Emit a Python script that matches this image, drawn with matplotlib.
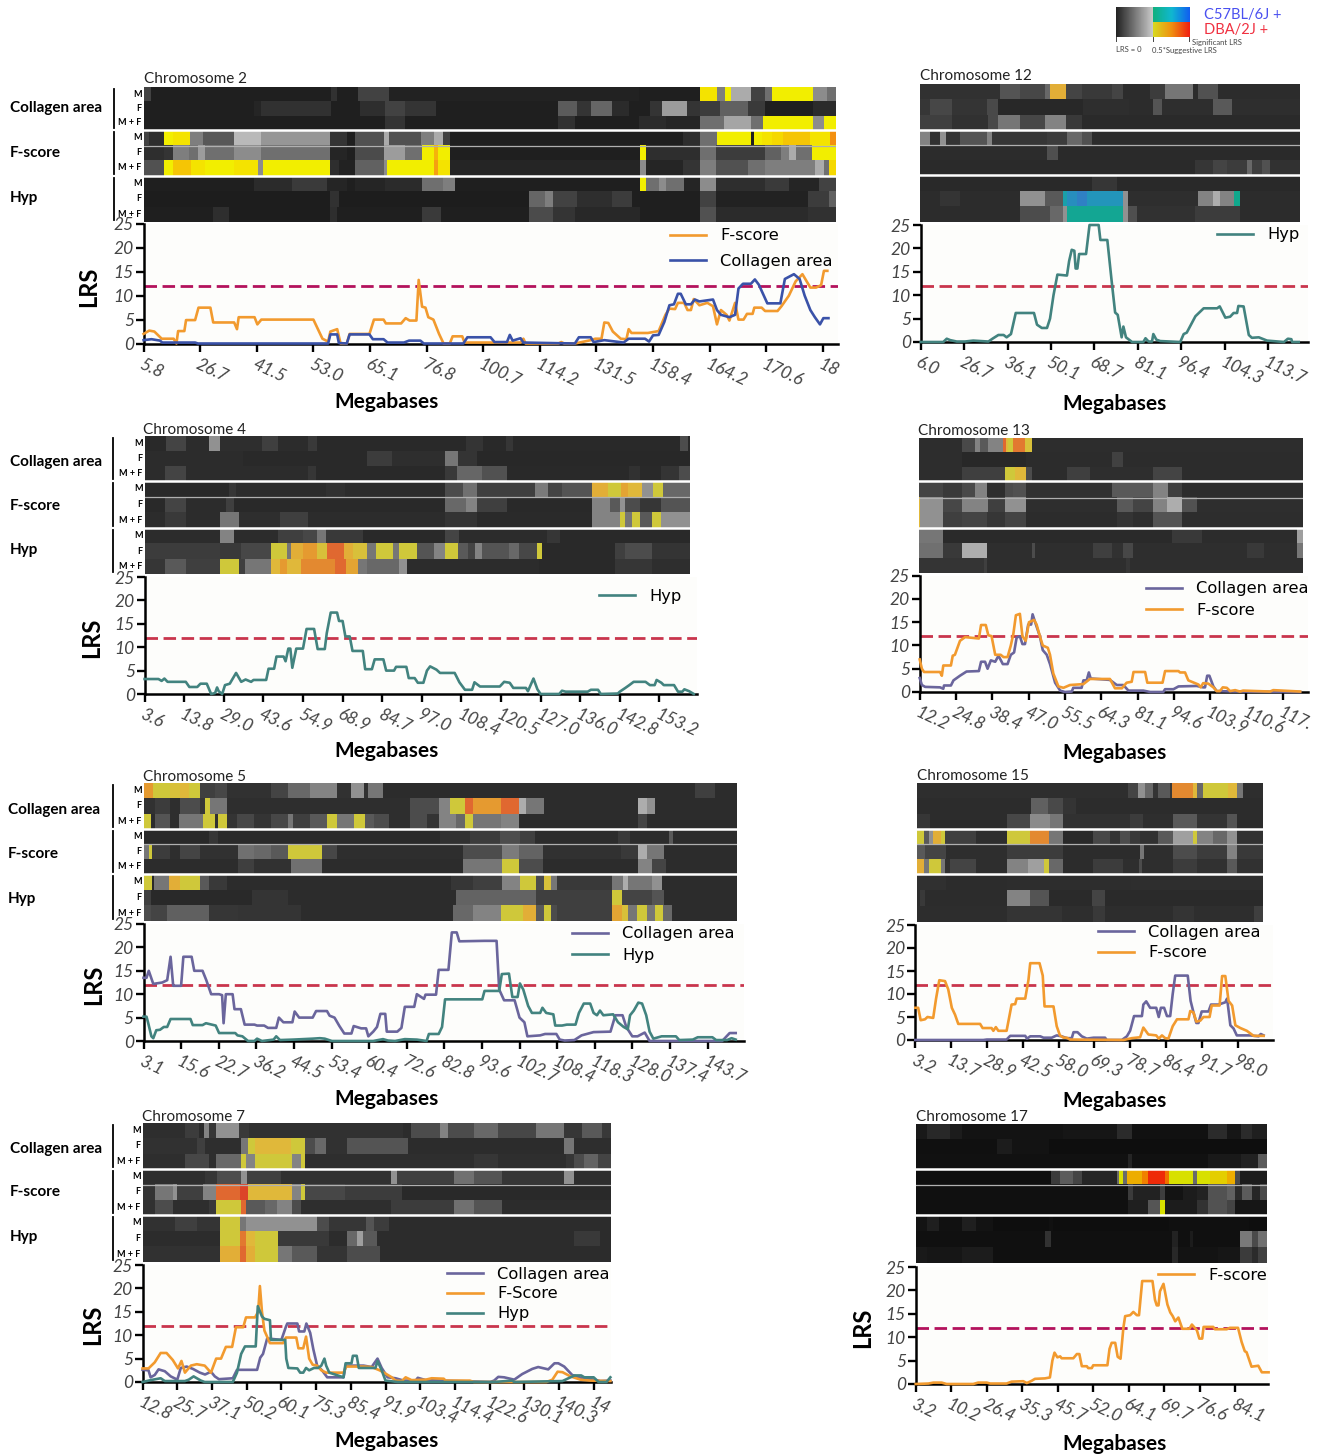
#!/usr/bin/env python3
"""
LRS heat strips and line plots for chromosomes 2, 4, 5, 7, 12, 13, 15, 17
"""

import numpy as np
import matplotlib
matplotlib.use('Agg')
import matplotlib.pyplot as plt
from matplotlib.colors import LinearSegmentedColormap, Normalize

W, H = 1317, 1456
FONT = 'Lato'

# Heat rows: (end of block as % of the strip, LRS) - negative is the C57BL/6J + side
# Row order is Collagen M, F, M+F, F-score M, F, M+F, Hyp M, F, M+F
chr2_heat = [
    [(1,1.5),(27,.3),(28,.9),(31,.3),(35.5,1.5),(71.6,.4),(80.3,.3),(82.8,9),(84,3.5),(84.8,8),(87.7,5),(89.7,1.5),(90.8,3),(96.7,8),(98.7,4),(100,3)],
    [(16,.3),(17,.5),(27,.9),(31.3,.3),(34.8,.8),(37.8,1.5),(42.3,1),(59.9,.3),(62.6,2.3),(64.6,1),(67.7,2.7),(70.1,.7),(73.2,.3),(74.8,1),(78.5,4.5),(80.3,1),(83.2,1.3),(87.3,2.5),(89.7,1.2),(96.7,.3),(100,.7)],
    [(34.8,.3),(37.8,1),(59.9,.3),(62.3,.9),(71.6,.3),(75.5,.7),(80.3,.5),(83.8,3),(87.7,4.8),(89.5,3),(96.7,8),(98.3,4),(100,8)],
    [(.8,1.5),(3,.8),(4.3,8),(6.7,9),(8.6,3.5),(13,2.2),(16.9,5.5),(26.9,4.3),(29.4,1),(30.6,.3),(34.7,2),(35.5,5),(40,2),(42,3.5),(43.2,5),(44.3,1.5),(77.9,.3),(80.3,.8),(82.8,3),(87.7,8),(88.2,.3),(89.3,8),(90.8,9),(92.4,10),(96.3,11),(99.2,9),(100,14)],
    [(3,.8),(4.3,1),(6.6,3.5),(7.8,3),(8.8,4.5),(13,3),(16.9,4),(26.9,3),(29.4,.5),(30.6,.3),(34.7,1.8),(37.8,4.5),(40.2,3),(41.9,8),(42.5,12),(44.3,8),(71.7,.3),(72.6,8),(80.3,.8),(82.6,3),(89.7,1.3),(92,2.5),(93.2,3.5),(94.2,5),(96.5,3),(100,8)],
    [(3,2),(4.3,8),(6.8,11),(8.8,9),(13,8),(16.5,9),(17.3,4),(26.9,8),(28.2,.8),(30.6,.4),(34.7,2.5),(35.2,4),(41.9,8),(42.5,13),(44.3,9),(71.7,.5),(72.6,4),(77.9,.5),(80.3,1),(82.6,3.5),(87.3,2),(89.7,3),(97,3.5),(98.2,5),(99,3),(100,10)],
    [(16,.3),(21.4,.7),(26.5,1.2),(29.4,.5),(30.6,.3),(34.8,.5),(40.2,.7),(43.2,3),(45,3.5),(71.7,.3),(72.6,8),(74.4,3),(75.4,4),(78.1,3),(80.3,.5),(82.6,4),(89.7,.8),(93.2,1.2),(97.5,.5),(100,1.5)],
    [(26.9,.2),(28.2,.9),(55.6,.2),(58,2.7),(59.1,3.5),(62.6,1.5),(67.7,.8),(70.5,1.3),(80.3,.3),(82.6,1.5),(95.9,.4),(99,1.3),(100,2.5)],
    [(10,.3),(12.4,.8),(26.9,.2),(28,.8),(40.2,.3),(43,1.2),(55.6,.3),(59.1,1.8),(62.3,1),(71.7,.6),(80.3,.3),(82.6,2),(95.9,.7),(100,.9)],
]
chr4_heat = [
    [(4,.2),(7.6,1.2),(11.8,.3),(13.9,4),(21.5,.4),(24.4,1),(30,.3),(31.6,.8),(59,.2),(62,.6),(66.3,.2),(67.5,.7),(98.2,.2),(99.6,1.5),(100,.2)],
    [(18,.3),(40.8,.2),(45.3,.9),(55,.4),(57.5,3),(61,.6),(100,.15)],
    [(3.8,.3),(7.6,1.2),(30,.3),(31.5,.7),(55,.2),(57.2,.8),(61.9,2.4),(66.5,1.7),(88.8,.2),(90.9,.5),(94.7,.2),(98,.6),(100,1.5)],
    [(15.5,.2),(16.8,.7),(33.3,.3),(36.7,.5),(55,.3),(58.4,1.5),(61,2.8),(71.5,1),(74,3.2),(76.6,1.2),(82,1.8),(84.9,11),(87.4,8),(88.7,12),(91.2,10),(93.3,4),(95,8),(100,2.5)],
    [(3.8,.2),(7.6,1.2),(15,.3),(16.4,1),(55,.2),(58.9,2.5),(61,3.5),(66.5,1),(82,.2),(85.4,3.5),(87.1,2),(88,4),(90.9,1.5),(94.7,.7),(100,1.8)],
    [(3.8,.3),(7.6,.8),(13.9,.3),(17.3,3),(24.8,.4),(29.9,1),(55,.3),(61,.6),(82,.25),(87.1,3.5),(88,8),(89.3,3),(90.9,8),(93,2),(94.7,8),(100,4)],
    [(13.9,.3),(16.4,3.5),(24.4,.3),(29,1),(31.6,1.3),(33.2,3),(40,.8),(55,.2),(57.6,1.2),(73.7,.3),(76.2,.7),(100,.2)],
    [(13.9,.9),(17.7,.8),(23.1,1.3),(26.1,8),(26.9,3),(29,11),(31.6,13),(33.5,9),(36.6,16),(38.3,11),(40.8,9),(42.5,3),(45.5,7.5),(46.7,3),(49.9,8),(53,1.8),(55.1,3.5),(57.5,8),(59.3,2),(60.6,1.2),(61.9,3.5),(66.9,1.8),(68.6,2.5),(72,1.3),(72.8,8),(86.3,.2),(88,1),(93,1.5),(100,.6)],
    [(3.8,.7),(7.6,2),(13.9,1),(17.3,8),(18.5,1),(23.1,3),(24.8,10),(26.1,13),(28.6,10),(34.9,14),(37,16),(39.1,12),(40.8,3),(46.7,2.5),(48.2,4),(72.4,.3),(86.3,.2),(93,.7),(100,.4)],
]
chr5_heat = [
    [(1.6,13),(4.4,8),(6.2,9),(7.6,10),(9.6,8),(12.1,1),(14.1,1.3),(21.5,.5),(24.4,1.2),(28.1,2.5),(32.6,3.5),(34.9,.5),(37.2,4),(37.9,.5),(40.4,3),(93,.3),(96.3,1),(100,.3)],
    [(2,.5),(4.4,.9),(6.2,.4),(9.6,1.5),(10.4,.7),(11.2,8),(14.1,3),(44.9,.4),(49.8,1.5),(51.6,3.5),(54.1,8),(55.5,16),(60.2,13),(63.2,16),(64.5,5),(67.5,3),(83.3,.3),(84.9,5),(86.1,4),(100,.3)],
    [(1.3,8),(2,.3),(4.4,1.8),(6,.4),(10.1,3),(12,8),(12.6,.5),(14.1,8),(15.7,.6),(18.6,1.3),(21.5,.6),(24.4,1.3),(25.2,3),(28.1,1),(30.9,2),(32.6,8),(35.5,3),(37.3,8),(38.8,2),(41.3,1.5),(44.9,.4),(47.8,1.5),(49.8,.6),(52.7,3.5),(54.1,2.5),(55.5,8),(60.2,3),(63.2,3.5),(83.3,.3),(84.9,1.2),(100,.3)],
    [(11,.2),(12.5,.7),(50,.25),(55,.5),(60,.9),(63.5,1.5),(66,1),(80,.3),(82,.8),(88.5,.3),(89.3,2),(100,.3)],
    [(1,3),(1.5,8),(4.4,.9),(6.2,.4),(9.6,1.2),(15.9,.5),(18.6,2.8),(21.5,2.5),(24.4,2),(30.1,8),(32.6,1.3),(53.8,.4),(60.4,1.5),(63.2,3.2),(67.3,2.3),(80.4,.5),(83.3,.8),(84.9,5),(87.7,3),(100,.3)],
    [(15.9,.3),(18.6,1),(24.8,.5),(30.1,2.8),(53.8,.3),(60.4,3),(63.2,8),(67.3,1.5),(83.3,.3),(85.7,3.5),(88.1,1.2),(100,.3)],
    [(1.4,8),(1.8,.2),(4.3,3),(6.2,11),(9.6,8),(11,2),(14.1,.8),(51.8,.3),(55.5,.7),(60.4,1),(63.4,3.5),(66.1,8),(67.5,1.5),(68.6,9),(69.6,3),(78.9,.8),(80.8,3),(81.6,5),(85.7,3),(87.3,4),(100,.3)],
    [(1.3,1),(18.3,.2),(24.4,.6),(52.6,.3),(66.1,2.3),(78.9,1),(80.6,8),(85.7,1.2),(87.7,1.8),(100,.3)],
    [(1.3,1.5),(4,1.2),(11,2.2),(15.9,.7),(26.5,.6),(52.2,.3),(55.5,2.5),(60.2,3.5),(64,8),(66.1,11),(67.5,2),(68.6,8),(69.6,1.5),(78.9,1),(80.6,12),(81.6,9),(83.1,3),(84.9,8),(86.1,3),(87.5,8),(89,2.5),(100,.3)],
]
chr7_heat = [
    [(9,.4),(12,.9),(13.2,.3),(14.1,3.5),(15.7,.7),(20.6,4),(22.7,.8),(55.7,.5),(57.4,.3),(63.4,1.5),(65.1,3.5),(70.7,1.5),(75.8,2.5),(84,1.3),(90,3),(93.8,.7),(98.1,2),(100,.8)],
    [(11.6,.5),(13.3,1),(21,.4),(22.4,3),(24,8),(31.7,10),(34.7,8),(36.8,1.5),(39.2,2.5),(43.7,.5),(56.6,1.8),(90,.3),(92.1,3),(100,.4)],
    [(9,.4),(14.1,1.3),(15.7,.4),(21,2.5),(22,8),(24,3.5),(32,8),(33.8,3.5),(34.7,8),(70.7,.4),(75.8,.7),(90.4,.4),(92.1,.7),(94.3,1.5),(97.3,2.3),(100,1.2)],
    [(13.3,.4),(15.8,.7),(21,1.5),(22.3,4),(29.6,1),(53.1,.5),(54.4,4),(66.4,1),(70.7,2.8),(76.7,1.8),(90,.7),(92.1,4),(100,.4)],
    [(2.6,.6),(6.4,3),(7.3,4),(12.9,1),(15.7,3.5),(20.7,16),(22.5,20),(32,10),(33.8,3.5),(34.7,8),(43.3,1.3),(55.3,.9),(100,.2)],
    [(2.6,.5),(6.4,1.5),(14.1,.4),(15.7,.8),(21,8),(22,16),(26.1,2),(28.7,2.5),(32,3.5),(33.8,1.5),(53.1,.4),(66.4,.9),(70.7,2.8),(76.7,1.8),(100,.3)],
    [(6.9,.5),(11.6,1),(16.5,.6),(20.7,8),(22,3),(37.3,4),(39.8,1.5),(47.6,.7),(49.3,1.8),(52.7,.9),(100,.3)],
    [(16.5,.3),(20.7,8),(22,15),(24,10),(28.9,8),(39.8,.8),(43.7,.3),(45.8,2.5),(47.1,4.5),(50.1,2),(92.1,.3),(97.7,.8),(100,.3)],
    [(16.5,.5),(20.7,11),(22,16),(24,11),(28.9,8),(32,3),(37.3,2),(43.7,.6),(50.6,1.5),(100,.3)],
]
chr12_heat = [
    [(21,.5),(26.3,1.8),(32.9,1.3),(34.2,2.5),(38.4,11),(42.5,1.2),(50.4,.8),(53.5,1.2),(60.5,.3),(64.5,.9),(71.9,3),(73.2,.3),(78.5,1.7),(100,.3)],
    [(2.6,.7),(8.3,1.3),(17.5,.6),(20.6,1.4),(43,.15),(55,.4),(61.4,.3),(63.6,1.8),(77.2,.4),(82,2),(100,.4)],
    [(8.3,1),(18,.5),(20.6,1.4),(26.3,3),(32.9,1.3),(38.4,3.5),(42.5,.8),(100,.25)],
    [(2.5,3.5),(5.3,.5),(6.8,4),(10.5,.6),(17.5,1.8),(18.9,3.5),(33.3,.7),(38.6,.9),(42.5,2.5),(45.2,1.7),(100,.3)],
    [(33.3,.3),(36.4,1.6),(100,.25)],
    [(72.4,.25),(77.2,.7),(80.7,1.2),(86,.9),(87.3,2.5),(89.9,1),(92.1,1.7),(100,.5)],
    [(45.2,.2),(51.8,.7),(100,.2)],
    [(5.3,.3),(10.5,.6),(26.3,.3),(32.9,4),(37.7,2),(38.6,-9),(41.2,-12),(43.9,-14),(53.5,-11),(54.8,4),(73.2,.4),(77.2,3.5),(78.9,5),(82.5,3.5),(84.2,-7),(100,.3)],
    [(26.3,.3),(34.2,1.5),(37.7,2.5),(38.6,4),(53.5,-7.5),(54.8,4),(57,1.6),(72.4,.5),(84.2,.9),(100,.3)],
]
chr13_heat = [
    [(11.1,.35),(14.6,1.4),(15.9,3.5),(18.1,2),(22,3.5),(22.6,16),(23.2,10),(24.5,8),(27.6,15),(29.4,9),(100,.35)],
    [(11.1,.35),(28,.15),(50.2,.3),(53.2,1.1),(100,.3)],
    [(11.1,.35),(22.4,1),(25,8),(28,10),(29.4,1.5),(38.5,.3),(44.6,1),(61.1,.4),(68.5,1.2),(100,.3)],
    [(6.3,1.2),(11.1,.8),(14.6,1.4),(17.6,3.5),(22.4,.4),(24.6,1.5),(28,1.7),(50.2,.5),(61.1,2),(65,3.5),(68.5,1),(100,.3)],
    [(.2,10),(6.3,4),(11.1,1.3),(18.1,3.5),(22.4,1),(28,4),(51.5,.4),(55.9,2),(61.1,1.2),(64.6,3.5),(68.5,5),(72.4,1.7),(100,.4)],
    [(.2,10),(6.3,4),(11.1,1),(17.6,1.2),(22.4,.7),(28,1.2),(51.5,.3),(55.9,.6),(61.1,.4),(68.5,1.8),(100,.35)],
    [(6.3,3),(66,.25),(73.7,.8),(98.4,.3),(100,4.5)],
    [(6.3,2.8),(11.1,.8),(17.6,5),(29.4,.4),(30.2,1.5),(45.4,.4),(50.2,1),(53.2,.5),(55.9,1.3),(85.4,.4),(89.8,.8),(98.4,.4),(100,3)],
    [(17,.6),(17.8,1),(54,.4),(55,.7),(100,.4)],
]
chr15_heat = [
    [(61.1,.4),(64,1.2),(65.9,4),(68.3,2.5),(69.8,.6),(73.2,2),(73.9,.8),(79.9,14),(81.1,10),(82.8,2.5),(90,8),(92.5,10),(94.4,3),(100,.4)],
    [(33.1,.3),(37.9,2.2),(42.3,1.4),(46.1,.6),(100,.3)],
    [(3.7,.7),(25.9,.3),(32.6,1.3),(38.4,3.8),(42.3,3),(61.6,.5),(65.4,.9),(74.1,.4),(80.9,2),(89.6,.6),(92.5,1.8),(100,.3)],
    [(1.9,8),(3.5,2),(4.6,4),(6.8,11),(8,8),(9.5,1),(17.2,1),(25.9,.4),(32.6,8),(38.1,14),(42.3,3),(51,.2),(55.8,1.3),(58.7,.6),(61.6,1.5),(64.5,.8),(69.8,.5),(74.1,2),(79.9,4.5),(81.1,8),(85.7,3.5),(89.6,2.5),(92.5,4),(100,.5)],
    [(2.2,2),(8.5,1.2),(25.9,.4),(42.3,.9),(64.5,.3),(65.6,3),(74.1,.4),(80.9,1.5),(89.6,.9),(92.5,3.5),(100,.8)],
    [(1.9,11),(3.5,3),(6.8,8),(8,3),(9.5,.5),(17.2,1.2),(25.9,.4),(32.1,3.5),(36.8,4.5),(38.2,8),(42.3,2.5),(51,.3),(59.7,.9),(64.3,.4),(65,1.5),(74.1,.4),(80.9,.9),(89.6,.5),(92.5,2),(100,.5)],
    [(8.5,.45),(25.9,.3),(62,.35),(100,.4)],
    [(1,.3),(2.2,.8),(25.9,.3),(32.8,3.5),(38.2,1.8),(50.5,.25),(54.3,1.2),(100,.25)],
    [(26,.35),(42,.6),(51,.4),(54.3,.8),(74,.35),(80,.6),(97.5,.4),(100,1)],
]
chr17_heat = [
    [(3,.4),(9.7,.9),(13,.5),(42,.2),(57.2,.3),(61.5,1),(83.4,.15),(88.6,1),(92.8,.3),(95.7,1),(100,.6)],
    [(23,.1),(27.5,.5),(38,.2),(100,.07)],
    [(60.5,.15),(61.7,.8),(83.4,.15),(92.8,.4),(97.5,.7),(100,2.5)],
    [(38.6,.08),(41,1.5),(44.8,2.5),(47.2,1.8),(57.2,.8),(57.9,3),(59.1,8),(60.2,3),(64.3,12),(66.2,15),(71,20),(72.2,16),(79,8),(80.2,3),(83.8,8),(88.6,9.5),(91,12),(92.4,2),(100,.5)],
    [(60.5,.1),(62,1.5),(69.6,.7),(71,1.6),(76.2,.2),(80,.5),(83.4,.7),(88.6,2.2),(91,2.7),(92.9,1),(95.7,2.5),(98,.8),(100,2)],
    [(60.5,.1),(66.2,.6),(69.6,2.3),(71,8),(80,.5),(83.4,1.2),(88.6,2.2),(91,1.8),(100,.3)],
    [(3,.2),(6.5,.6),(13,.15),(17,.6),(22,.2),(38,.07),(39,.15),(72,.08),(95,.1),(100,.08)],
    [(36.7,.1),(38.6,1.2),(72.9,.1),(74.8,.7),(78,.1),(79,.5),(92.4,.1),(95.7,3.5),(97.6,2),(100,3.2)],
    [(3,.4),(13,.3),(22,.5),(72.9,.1),(74.8,.9),(86,.2),(92.4,.3),(95.7,1.5),(97.6,1),(100,1.7)],
]

# Line data: x is position along the axis in tick intervals, y is LRS
chr2_fscore_x = [0,.1,.19,.32,.53,.58,.61,.72,.75,.91,.97,1.18,1.23,1.6,1.65,1.68,1.96,2.01,2.08,3,3.16,3.26,3.3,3.42,3.48,3.59,3.64,3.99,4.07,4.24,4.28,4.55,4.63,4.7,4.82,4.86,4.92,4.98,5.03,5.12,5.22,5.3,5.41,5.46,5.63,5.67,6.66,6.71,6.75,7.33,7.38,7.43,7.62,7.9,7.98,8.09,8.14,8.21,8.29,8.43,8.53,8.57,8.62,8.91,9.1,9.22,9.29,9.39,9.44,9.55,9.61,9.67,9.72,9.82,9.96,10.06,10.13,10.2,10.3,10.35,10.45,10.51,10.6,10.66,10.76,10.79,10.92,10.98,11.2,11.27,11.4,11.52,11.64,11.78,11.88,11.97,12.02,12.08]
chr2_fscore_y = [2,2.7,2.5,1,1,0,2.6,2.6,4.9,4.9,7.5,7.5,4.4,4.4,3,5.5,5.5,4,5,5,1,.4,2.5,3,0,0,2,2,5,5,4.2,4.2,5.3,4.8,4.8,13.3,7.7,7.5,5.5,5,2,0,0,1.5,1.5,.2,.2,1,0,0,.3,0,0,.7,1,1,4.4,4.3,2.5,1,.9,3,2.2,2.2,2.6,6,7.3,7.2,8.5,8.5,7,7,9.3,8,8.5,7.8,4,7,6,4.8,8.5,5,5,6.2,6.2,7.5,7.5,6.8,6.8,7.8,10,13,14.5,11.7,11.7,12.2,15.2,15.2]
chr2_collagen_x = [0,.14,.29,.33,.91,.96,3.26,3.3,3.42,3.45,3.59,3.64,3.99,4.05,4.24,4.31,4.6,4.69,4.89,4.95,5.65,5.72,6.13,6.2,6.42,6.47,6.52,6.66,6.71,7.62,7.69,7.9,7.95,8.14,8.48,8.57,8.86,8.93,9,9.1,9.2,9.29,9.37,9.44,9.49,9.58,9.67,9.74,9.82,10.06,10.13,10.2,10.35,10.45,10.51,10.59,10.73,10.8,10.87,11.02,11.25,11.33,11.49,11.59,11.68,11.78,11.86,11.95,12.01,12.1]
chr2_collagen_y = [.7,.9,.6,.2,.2,0,0,1.9,1.9,.1,0,1.9,1.9,.9,.9,.2,.2,.6,.6,0,0,1.3,1.3,.3,.3,1.8,.6,1.1,.2,0,1.3,1.3,.3,.7,.2,1,1,.4,1.7,1.8,4.5,8,8.2,10.4,10.4,8.2,8.2,9.2,8.8,9.2,7,6,5.5,6,11.5,12.5,12.5,13.4,12.3,8.4,8.4,13.5,14.5,13.5,10,7,5.5,4,5.3,5.3]

chr4_hyp_x = [0,.35,.43,.5,.58,1.04,1.13,1.33,1.41,1.57,1.68,1.78,1.83,1.87,1.96,2.03,2.15,2.31,2.44,2.55,2.69,2.75,3.07,3.13,3.27,3.33,3.51,3.56,3.63,3.68,3.73,3.83,4,4.09,4.28,4.37,4.55,4.6,4.7,4.86,4.91,5,5.07,5.18,5.25,5.51,5.57,5.74,5.81,6.03,6.1,6.3,6.35,6.61,6.67,6.82,6.9,7.04,7.13,7.21,7.37,7.46,7.83,7.95,8.09,8.27,8.33,8.47,8.97,9.08,9.22,9.31,9.63,9.68,9.82,9.92,10,10.47,10.54,10.63,11.19,11.27,11.45,11.52,11.95,12,12.14,12.24,12.35,12.65,12.76,12.88,12.93,13.05,13.11,13.37,13.47,13.58,13.63,13.75,13.87]
chr4_hyp_y = [3.2,3.2,2.8,3.3,2.6,2.6,1.5,1.5,2.2,2.2,0,.2,1.4,.6,0,1.9,2.2,4.5,2.6,3.1,2.6,3,3,5.4,5.4,8,8,7,9.7,9.7,5.6,9.7,9.7,13.9,13.9,9.6,9.6,13,17.4,17.4,15.6,15.6,12.3,12.3,9.2,9.2,5.3,5.3,7.4,7.4,5,5,5.8,5.8,3.4,3.4,2.4,2.4,5,5.9,5.2,4.5,4.5,2.5,.9,.9,2.5,1.6,1.6,2.6,2.4,1.3,1.3,.6,3.3,1,0,0,.7,.5,.5,.9,.9,0,.1,.5,1.3,1.9,2.6,2.6,1.9,1.9,3,2.4,1.9,1.9,.5,.5,1,.6,0]

chr5_collagen_x = [0,.08,.14,.26,.5,.63,.72,.79,1,1.06,1.28,1.35,1.57,1.67,1.8,2.01,2.09,2.13,2.19,2.37,2.42,2.59,2.69,2.95,3.02,3.21,3.31,3.53,3.6,3.72,3.96,4.02,4.14,4.5,4.59,4.88,4.95,5.08,5.21,5.34,5.53,5.59,5.79,5.92,5.98,6.11,6.21,6.3,6.43,6.47,6.75,6.86,6.95,7.2,7.27,7.46,7.5,7.78,7.85,8.11,8.2,8.33,8.4,9.07,9.39,9.46,9.59,9.87,10,10.13,10.21,10.55,10.68,10.98,11.07,11.2,11.46,11.65,11.97,12.42,12.55,12.74,12.84,13,13.14,13.33,13.46,15.39,15.59,15.75]
chr5_collagen_y = [13.5,13.5,15,12.2,12.5,13,18,11.8,11.8,18,18,15,15,13,10,10,9.8,3.8,10,10,6.8,6.8,3.5,3.5,3.3,3.3,2.8,2.8,5,4,4,6.3,5,5,6.4,6.4,5.4,5,3.2,1.6,1.6,3.2,2.7,2.7,1,2,3,5.8,5.8,2,2,2.8,7.3,7.3,10,9,9.9,9.9,15.2,15.2,23.2,23.2,21.3,21.4,21.4,11,8.7,8.7,5,4,1,1.2,1.5,1.5,.3,.1,.2,1.2,1.9,2,5.5,5.5,3,1,1,1.8,0,0,1.7,1.7]
chr5_hyp_x = [0,.08,.12,.21,.26,.34,.44,.54,.63,.72,1.25,1.31,1.57,1.66,1.92,2.01,2.44,2.5,2.63,2.78,2.95,3.02,3.15,3.46,3.53,3.63,3.98,4.5,4.69,4.82,5.01,6.11,6.37,6.5,6.69,6.95,7.27,7.53,7.59,7.85,7.94,8.02,9.01,9.07,9.46,9.53,9.72,9.81,9.95,10.01,10.1,10.23,10.33,10.55,10.61,10.71,10.9,10.95,11.13,11.26,11.49,11.58,11.71,11.88,11.97,12.06,12.14,12.23,12.49,12.62,12.77,12.88,12.94,13.04,13.16,13.26,13.37,13.46,13.56,13.78,14.16,14.25,14.61,14.74,15.13,15.23,15.52,15.64,15.75]
chr5_hyp_y = [5.2,5.2,4,1,.6,2.3,2.4,3,3,4.7,4.7,3.4,3.4,3.8,3.3,1.7,1.7,1.2,1,0,0,.5,0,.3,1,.2,.3,.5,.6,.5,0,0,.4,.1,0,.4,.3,0,1.5,1.5,3,8.9,8.9,10.7,10.7,14.3,14.4,9.4,9.4,12.3,11,7.5,6,6,7.1,6,5.7,3.3,3.3,3.5,3.5,6,8,8,6,5.5,6.5,5.5,5.7,4,3,2.5,5.5,6.5,8.2,8,5.5,2,.5,1,1,.2,.3,.8,.8,.2,.2,.6,.3]

chr7_collagen_x = [0,.17,.23,.35,.46,.64,.81,1,1.1,1.27,1.45,1.65,1.8,1.97,2.08,2.2,2.6,2.72,3.3,3.39,3.47,3.59,4,4.13,4.17,4.46,4.51,4.66,4.72,4.83,4.92,5.03,5.17,5.32,5.79,5.85,6.37,6.6,6.77,6.89,7.06,7.29,7.52,7.87,7.93,8.16,8.62,10.02,10.13,10.25,10.42,10.71,10.94,11.23,11.4,11.69,11.87,11.98,12.15,12.38,12.67,13.02,13.19,13.48]
chr7_collagen_y = [2.6,2.5,1,1.5,2.7,2.3,1.2,.5,3,3.3,2.8,2,1.6,2.2,1.2,.6,.8,2.6,2.6,5.2,6,9.3,9,11.8,12.5,12.5,10.8,10.8,12.5,10.5,7,3.5,2.5,1,1,3.5,3.5,3.2,5,3,1,.8,.3,.3,.9,.4,.3,0,.3,1.1,1,.5,1.7,2.8,3.2,2.7,4,4,3.3,1.5,.8,.5,.2,.3]
chr7_fscore_x = [0,.17,.35,.52,.69,.87,1.02,1.12,1.22,1.39,1.56,1.79,1.97,2.12,2.26,2.4,2.58,2.69,2.9,2.98,3.24,3.33,3.38,3.44,3.51,3.67,4.05,4.13,4.43,4.49,4.63,4.71,4.8,4.9,5.03,5.15,5.29,5.79,5.87,6.37,6.6,6.83,7,7.18,7.29,7.47,7.58,7.75,8.16,8.33,8.68,8.73,9.43,9.55,11.64,11.81,11.96,12.1,12.33,12.62,12.91,13.48]
chr7_fscore_y = [2.9,2.9,4.2,6.2,6.2,4.7,2.9,4.5,2,3.5,3.8,3.5,2,5,5,7.5,7.5,11.7,11.7,13.8,13.8,15,20.5,15,11,8.3,8.3,9.5,9.5,7.2,7.2,9.7,5,3.7,3.5,2.5,2,2,3.3,3.3,3.2,2.5,1.8,1,.3,.2,1,.4,.5,.8,.7,.3,.3,0,0,.5,2.2,2.1,1.2,.5,.3,.2]
chr7_hyp_x = [0,.12,.23,.52,.64,1.04,1.22,1.33,1.47,1.68,1.79,2.6,2.72,2.84,2.95,3.26,3.32,3.44,3.51,3.67,3.7,4.11,4.14,4.2,4.46,4.54,4.63,4.71,4.8,4.94,5.06,5.15,5.24,5.29,5.38,5.79,5.85,6.02,6.06,6.17,6.23,6.71,6.77,6.89,7,7.35,10.13,10.65,10.71,12.1,12.33,12.45,12.64,12.73,13,13.14,13.37,13.48]
chr7_hyp_y = [0,.2,.4,.8,.2,.2,.2,.5,1.2,.3,0,0,2,6,7.6,7.6,16.2,14,13.5,13.2,9,9,5,3,2.9,2,2,3,2.5,3,3,3.5,5,3.5,2,1,4,4,5.6,5.6,3,3,4.5,2.5,.3,0,0,.3,0,.2,1,1.4,1.4,1,1,0,0,1]

chr12_hyp_x = [0,.52,.6,.68,.83,1.02,1.21,1.56,1.67,1.79,1.91,1.98,2.08,2.19,2.61,2.68,2.79,2.91,2.98,3.06,3.15,3.37,3.42,3.48,3.54,3.57,3.61,3.65,3.81,3.89,4.1,4.14,4.3,4.4,4.48,4.54,4.63,4.67,4.73,4.87,5.13,5.18,5.25,5.33,5.36,5.43,5.52,5.98,6.06,6.13,6.33,6.52,6.83,6.89,7.02,7.13,7.21,7.29,7.32,7.44,7.56,7.63,7.79,7.98,8.37,8.46,8.54,8.56,8.71]
chr12_hyp_y = [0,0,.7,.4,.1,.1,.3,.1,.8,1.5,1.5,1,1.7,6.2,6.2,3.7,3,3,5,10,14.4,14.2,17.3,19.7,19.5,15.7,15.7,18.8,18.8,25,25,21.8,21.8,13,6.3,5.8,1,3.3,1,0,0,.8,.1,.1,1.7,.5,.2,0,1.7,2,5.5,7.2,7.2,7.6,5.2,5.4,6.2,6.2,7.7,7.6,1.5,.9,1,.3,0,.7,.6,0,0]

chr13_collagen_x = [0,.06,.15,.56,.65,.67,.86,.93,1.11,1.29,1.63,1.69,1.8,1.87,1.96,2.08,2.17,2.29,2.42,2.51,2.6,2.67,2.76,2.83,2.9,2.99,3.07,3.11,3.18,3.31,3.39,3.5,3.59,3.73,3.87,4,4.19,4.23,4.46,4.51,4.6,4.66,4.71,5.24,5.43,5.61,5.75,6.16,6.35,6.71,6.76,6.99,7.13,7.63,7.81,7.86,7.92,7.98,8.09,8.18,8.64,10.48]
chr13_collagen_y = [3,1.5,1.1,1,.7,1.4,1.4,2.5,3.5,4.4,4.5,6.5,6.5,5,6.8,6.5,7.8,6,6,8,8.5,11.7,12,10.3,10.3,14.5,14.5,16.7,15,12,9,8,6,2,.3,0,.1,.9,.9,2.5,2.5,4.2,2.9,2.6,1.5,1.5,.3,.3,0,0,.6,.6,1.2,1.3,1,1,3.5,3.5,1.2,.2,.1,0]
chr13_fscore_x = [0,.06,.12,.56,.61,.65,.86,.91,.97,1.11,1.25,1.63,1.69,1.82,1.89,1.98,2.08,2.23,2.31,2.42,2.51,2.58,2.65,2.76,2.83,2.92,3.01,3.15,3.22,3.31,3.39,3.53,3.59,3.68,3.82,3.96,4.05,4.14,4.51,4.69,5.24,5.38,5.57,5.7,5.84,5.89,6.21,6.27,6.69,6.76,7.13,7.17,7.31,7.4,7.68,7.74,7.81,7.95,8.09,8.18,8.27,8.35,8.46,8.55,8.69,8.82,8.91,9.65,9.74,10.48]
chr13_fscore_y = [7,5,4.3,4.3,3.5,5.7,5.7,7.8,8,11,11.8,11.5,14.4,14.4,12.2,12,8,8,7.5,7.5,10,12.5,16.5,16.8,12,11,15,15.5,14.5,12,10,9.5,8,4,1.2,.9,1.2,1.5,1.7,2.8,2.8,.8,.8,2,2.2,4.3,4.3,2,2,4.5,4.5,4.2,4.2,2.5,1.6,1,1.9,1.8,1,.2,.2,1,.9,.2,.4,.1,.3,.1,.4,.1]

chr15_collagen_x = [0,1.9,2,2.55,2.65,3.07,3.12,3.21,3.49,3.58,3.81,3.95,4.09,4.23,4.37,4.42,4.53,4.65,4.79,4.98,5.3,5.35,5.77,5.91,6,6.11,6.33,6.37,6.45,6.56,6.73,6.8,6.86,6.95,7.03,7.12,7.19,7.26,7.61,7.69,7.77,7.85,7.91,8,8.19,8.26,8.47,8.66,8.71,8.8,8.89,8.98,9.36,9.59,9.65,9.73]
chr15_collagen_y = [0,0,.1,.1,.9,.9,.3,.8,.8,.5,.5,1,.8,.4,.4,1.7,1.7,.8,.3,.5,.5,0,0,.8,2,5.2,5.2,7.7,8.4,7,7,5,7,7,5.2,5.2,10,14,14,8.5,6,3.7,3.7,6.2,6.2,7.7,7.7,8.2,9,3.2,2.5,1,1,.8,1.3,1]
chr15_fscore_x = [0,.08,.15,.27,.34,.5,.58,.67,.83,.92,1.02,1.11,1.2,1.81,1.88,2.13,2.18,2.25,2.32,2.55,2.69,2.79,2.83,3.07,3.16,3.21,3.47,3.56,3.61,3.86,3.95,4.04,4.14,4.23,4.32,5.82,6.05,6.28,6.37,6.51,6.73,6.8,6.89,6.98,7.07,7.19,7.31,7.63,7.68,7.77,7.85,7.96,8.05,8.22,8.28,8.5,8.57,8.66,8.75,8.85,8.94,9.08,9.26,9.45,9.73]
chr15_fscore_y = [7,7,4.3,4.5,5,4.8,9,13,12.8,11,7,5.5,3.5,3.5,2.6,2.6,2,2.8,2,2,7.7,7.8,9,9,13,16.7,16.7,14,7.3,7.3,3,1,.5,.5,.1,0,.4,.6,2.7,1.2,1,.3,1,.4,.3,3,4.5,4.5,6.3,6,4,4.2,5,5,7.5,7.5,13.9,13.9,8.5,7.5,3.2,2.6,2,.9,.9]

chr17_fscore_x = [0,.36,.5,.73,.87,1.62,1.76,2,2.1,2.56,2.7,3.03,3.13,3.27,3.36,3.64,3.78,3.85,3.91,3.99,4.07,4.11,4.44,4.54,4.61,4.68,4.82,4.86,4.96,5,5.4,5.46,5.52,5.62,5.69,5.77,5.85,5.9,6.04,6.13,6.23,6.29,6.38,6.67,6.74,6.79,6.84,6.88,6.98,7.09,7.17,7.24,7.31,7.4,7.51,7.71,7.78,7.92,7.99,8.07,8.11,8.38,8.43,8.76,8.85,9.08,9.18,9.27,9.32,9.46,9.65,9.75,9.94]
chr17_fscore_y = [0,.1,.3,.3,0,0,.3,.3,.1,.1,.5,.6,.2,.7,1.1,1.2,1.4,5,6.7,5.7,5.9,5.5,5.5,6.4,6.4,3.8,3.8,3.4,3.4,4,4,7.5,8.8,8.8,5.8,5.4,12,14.5,14.7,15.4,14.7,14.7,22,22,18,16.8,16.8,19.8,21.4,17,15.3,14.5,13.4,14.2,11.8,11.8,12.7,11.5,9.7,9.7,12.2,12.2,11.7,11.7,12,12,9,7,6.8,3.7,3.9,2.5,2.5]

# Tick labels
chr2_ticks = ['5.8','26.7','41.5','53.0','65.1','76.8','100.7','114.2','131.5','158.4','164.2','170.6','18']
chr4_ticks = ['3.6','13.8','29.0','43.6','54.9','68.9','84.7','97.0','108.4','120.5','127.0','136.0','142.8','153.2']
chr5_ticks = ['3.1','15.6','22.7','36.2','44.5','53.4','60.4','72.6','82.8','93.6','102.7','108.4','118.3','128.0','137.4','143.7']
chr7_ticks = ['12.8','25.7','37.1','50.2','60.1','75.3','85.4','91.9','103.4','114.4','122.6','130.1','140.3','14']
chr12_ticks = ['6.0','26.7','36.1','50.1','68.7','81.1','96.4','104.3','113.7']
chr13_ticks = ['12.2','24.8','38.4','47.0','55.5','64.3','81.1','94.6','103.9','110.6','117.']
chr15_ticks = ['3.2','13.7','28.9','42.5','58.0','69.3','78.7','86.4','91.7','98.0']
chr17_ticks = ['3.2','10.2','26.4','35.3','45.7','52.0','64.1','69.7','76.6','84.1']

# Colors
ORANGE = '#f29a2e'
PURPLE = '#6a659c'
BLUE = '#3a52a8'
TEAL = '#42837f'
MAGENTA = '#b3125c'
RED_DASH = '#c9354c'


def make_cmap(dark, yellow, mid, orange, redorange, red):
    # LRS -25..25, gray up to half the suggestive level, then the hot or cold side
    stops = [(-25, '#2f6fd0'), (-14, '#2f80c4'), (-10, '#1f9cb8'), (-7, '#10a88c'),
             (-6.01, '#10a88c'), (-6, '#c8c8c8'), (0, dark), (6, '#c8c8c8'),
             (6.01, yellow), (8, yellow), (10, mid), (13, orange), (16, redorange),
             (20, red), (25, '#e01010')]
    return LinearSegmentedColormap.from_list('lrs', [((v + 25) / 50, c) for v, c in stops], N=1024)


cmap_bright = make_cmap('#161616', '#f2ee00', '#f5d800', '#f5a010', '#f07010', '#ee2a10')
cmap_muted = make_cmap('#232323', '#cfc83a', '#e0b83a', '#e59a30', '#e06830', '#dc4428')
cmap_black = make_cmap('#0c0c0c', '#d8e000', '#e8c800', '#f0a000', '#f07000', '#ee2a08')
norm = Normalize(-25, 25)

fig = plt.figure(figsize=(W / 100, H / 100), dpi=100)
fig.patch.set_facecolor('white')


def px_axes(x0, y_top, x1, y_bottom, **kw):
    return fig.add_axes([x0 / W, 1 - y_bottom / H, (x1 - x0) / W, (y_bottom - y_top) / H], **kw)


def px_text(x, y, s, **kw):
    kw.setdefault('family', FONT)
    return fig.text(x / W, 1 - y / H, s, **kw)


def draw_heat(rows, left, right, top, bottom, white1, white2, thin, cmap):
    ax = px_axes(left, top, right, bottom)
    ax.set_xlim(0, 100)
    ax.set_ylim(bottom, top)
    ax.axis('off')
    bands = [(top, white1), (white1, white2), (white2, bottom)]
    for b, (y0, y1) in enumerate(bands):
        edges_y = np.linspace(y0, y1, 4)
        for r in range(3):
            row = rows[b * 3 + r]
            edges_x = [0] + [e for e, v in row]
            vals = [[v for e, v in row]]
            ax.pcolormesh(edges_x, [edges_y[r], edges_y[r + 1]], vals, cmap=cmap, norm=norm,
                          antialiased=False, rasterized=True)
    ax.axhline(white1, color='white', lw=1.8)
    ax.axhline(white2, color='white', lw=1.8)
    ax.axhline(thin, color='#b0b0b0', lw=0.9)
    return ax


def draw_group_labels(bar_x, left, top, bottom, white1, white2, label_x, label_ys):
    bands = [(top, white1, 'Collagen area'), (white1, white2, 'F-score'), (white2, bottom, 'Hyp')]
    for (y0, y1, name), label_y in zip(bands, label_ys):
        fig.add_artist(plt.Line2D([bar_x / W, bar_x / W], [1 - (y0 + 2) / H, 1 - (y1 - 2) / H],
                                  color='black', lw=1.3))
        px_text(label_x, label_y, name, fontsize=11, fontweight='bold', va='center')
        h = (y1 - y0) / 3
        for i, s in enumerate(['M', 'F', 'M + F']):
            px_text(left - 2, y0 + h * (i + .5), s, fontsize=6.5, fontweight='bold',
                    ha='right', va='center')


def draw_lines(series, ticks, x0, spacing, x_end, y25, y0, dash, legend_xy, legend_gap):
    ax = px_axes(x0, y25, x_end, y0)
    ax.set_facecolor('#fdfdfb')
    handles = []
    for name, xs, ys, color in series:
        h, = ax.plot(xs, ys, color=color, lw=1.9, clip_on=False, solid_joinstyle='round',
                     label=name, zorder=3)
        handles.append(h)
    ax.axhline(12, color=dash, lw=2, dashes=(4.5, 2), zorder=2)
    ax.set_xlim(0, (x_end - x0) / spacing)
    ax.set_ylim(0, 25)
    ax.set_yticks([0, 5, 10, 15, 20, 25])
    ax.set_xticks(range(len(ticks)))
    ax.set_xticklabels(ticks, rotation=-25, ha='left', va='top', rotation_mode='anchor',
                       family=FONT, style='italic', fontsize=12.5, color='#444444')
    for lab in ax.get_yticklabels():
        lab.set(family=FONT, style='italic', fontsize=12.5, color='#444444')
    ax.tick_params(axis='x', length=6, width=1.7, pad=3)
    ax.tick_params(axis='y', length=6, width=1.7, pad=1)
    for side in ['top', 'right']:
        ax.spines[side].set_visible(False)
    for side in ['left', 'bottom']:
        ax.spines[side].set_linewidth(1.8)
    ax.legend(handles=handles, loc='upper left', frameon=False,
              bbox_to_anchor=(legend_xy[0] / W, 1 - legend_xy[1] / H), bbox_transform=fig.transFigure,
              borderpad=0, borderaxespad=0, handlelength=2.2, handletextpad=.9,
              labelspacing=legend_gap, prop={'family': 'DejaVu Sans', 'size': 11.7})
    return ax


def panel(title, title_xy, heat, heat_box, whites, cmap, series, ticks, x0, spacing, x_end, y25, y0,
          dash, legend_xy, legend_gap, mb_xy, lrs_xy=None, bar_x=None, label_x=None, label_ys=None):
    left, right, top, bottom = heat_box
    draw_heat(heat, left, right, top, bottom, whites[0], whites[1], whites[2], cmap)
    draw_lines(series, ticks, x0, spacing, x_end, y25, y0, dash, legend_xy, legend_gap)
    px_text(title_xy[0], title_xy[1], title, fontsize=11, va='center', color='#222222')
    px_text(mb_xy[0], mb_xy[1], 'Megabases', fontsize=15, fontweight='bold', ha='center', va='center')
    if lrs_xy:
        px_text(lrs_xy[0], lrs_xy[1], 'LRS', fontsize=17, fontweight='bold', rotation=90,
                ha='center', va='center')
    if bar_x:
        draw_group_labels(bar_x, left, top, bottom, whites[0], whites[1], label_x, label_ys)


panel('Chromosome 2', (144, 79), chr2_heat, (143.6, 836, 87, 222), (130, 175.5, 146), cmap_bright,
      [('F-score', chr2_fscore_x, chr2_fscore_y, ORANGE), ('Collagen area', chr2_collagen_x, chr2_collagen_y, BLUE)],
      chr2_ticks, 143.6, 56.6, 838, 224, 343.5, MAGENTA, (670, 228.5), .62, (386, 402),
      lrs_xy=(89, 287), bar_x=114, label_x=10, label_ys=(108, 153, 198))
panel('Chromosome 4', (143, 430), chr4_heat, (144.6, 690, 436, 574), (481, 528, 497), cmap_muted,
      [('Hyp', chr4_hyp_x, chr4_hyp_y, TEAL)],
      chr4_ticks, 144.6, 39.6, 697, 577, 694, RED_DASH, (599, 588.5), .4, (387, 751),
      lrs_xy=(92, 638), bar_x=113, label_x=10, label_ys=(462, 506, 550))
panel('Chromosome 5', (143, 777), chr5_heat, (143.5, 737, 783, 921), (829, 874, 844), cmap_muted,
      [('Collagen area', chr5_collagen_x, chr5_collagen_y, PURPLE), ('Hyp', chr5_hyp_x, chr5_hyp_y, TEAL)],
      chr5_ticks, 143.5, 37.6, 744, 924, 1041, RED_DASH, (572, 926.5), .4, (387, 1099),
      lrs_xy=(94, 985), bar_x=112.5, label_x=8, label_ys=(810, 854, 899))
panel('Chromosome 7', (142, 1117), chr7_heat, (142.6, 611, 1123, 1262), (1169, 1215, 1185), cmap_muted,
      [('Collagen area', chr7_collagen_x, chr7_collagen_y, PURPLE), ('F-Score', chr7_fscore_x, chr7_fscore_y, ORANGE),
       ('Hyp', chr7_hyp_x, chr7_hyp_y, TEAL)],
      chr7_ticks, 142.6, 34.7, 611, 1265, 1382, RED_DASH, (447, 1266.5), .3, (387, 1441),
      lrs_xy=(93, 1325), bar_x=113, label_x=10, label_ys=(1149, 1192, 1237))
panel('Chromosome 12', (920, 76), chr12_heat, (920, 1300, 84, 222), (130, 175, 145), cmap_muted,
      [('Hyp', chr12_hyp_x, chr12_hyp_y, TEAL)],
      chr12_ticks, 920.7, 43.4, 1308, 225, 342, RED_DASH, (1217, 227.5), .4, (1115, 404))
panel('Chromosome 13', (918, 431), chr13_heat, (919, 1302.7, 437.7, 573), (481, 528, 498), cmap_muted,
      [('Collagen area', chr13_collagen_x, chr13_collagen_y, PURPLE), ('F-score', chr13_fscore_x, chr13_fscore_y, ORANGE)],
      chr13_ticks, 919.7, 36.3, 1308, 575.7, 692, RED_DASH, (1146, 581.5), .4, (1115, 753))
panel('Chromosome 15', (917, 776), chr15_heat, (917, 1262.7, 783, 921.7), (829, 874, 844), cmap_muted,
      [('Collagen area', chr15_collagen_x, chr15_collagen_y, PURPLE), ('F-score', chr15_fscore_x, chr15_fscore_y, ORANGE)],
      chr15_ticks, 915.3, 35.8, 1272.7, 925, 1040, RED_DASH, (1098, 924.5), .35, (1115, 1101))
panel('Chromosome 17', (916, 1117), chr17_heat, (916, 1266.7, 1124, 1262.7), (1169, 1215, 1185), cmap_black,
      [('F-score', chr17_fscore_x, chr17_fscore_y, ORANGE)],
      chr17_ticks, 915.7, 35.5, 1268, 1267, 1384, MAGENTA, (1158, 1267.5), .4, (1115, 1444),
      lrs_xy=(863, 1328))

# Colour key at the top right
key = px_axes(1116, 7, 1189, 37)
key.axis('off')
grad = np.linspace(0, 1, 40)
key.imshow(cmap_muted(norm(grad[None, :] * 6)), extent=(0, 1, 1, 0), aspect='auto')
cold = LinearSegmentedColormap.from_list('cold', ['#10b080', '#10b8d0', '#1060f0'])
hot = LinearSegmentedColormap.from_list('hot', ['#d8d820', '#f09010', '#f02010'])
key.imshow(cold(grad[None, :]), extent=(1, 2, .5, 0), aspect='auto')
key.imshow(hot(grad[None, :]), extent=(1, 2, 1, .5), aspect='auto')
key.set_xlim(0, 2)
key.set_ylim(1, 0)
for x in [1116, 1153, 1189]:
    fig.add_artist(plt.Line2D([x / W, x / W], [1 - 37 / H, 1 - 41 / H], color='#444444', lw=.7))
px_text(1204, 15, 'C57BL/6J +', fontsize=10.5, color='#4a50f0', va='center')
px_text(1204, 30, 'DBA/2J +', fontsize=10.5, color='#f03040', va='center')
px_text(1192, 43, 'Significant LRS', fontsize=5.5, color='#444444', va='center')
px_text(1116, 50, 'LRS = 0', fontsize=5.5, color='#444444', va='center')
px_text(1152, 50, '0.5*Suggestive LRS', fontsize=5.5, color='#444444', va='center')

plt.savefig('out.png', dpi=100)
